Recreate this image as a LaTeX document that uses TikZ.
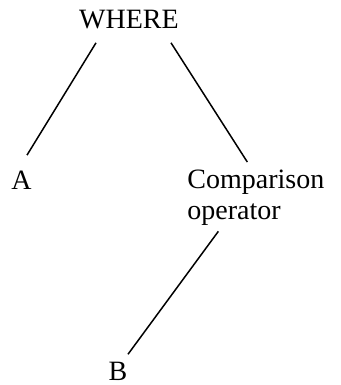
\documentclass[tikz,border=0pt]{standalone}
\usepackage{fontspec}
\setmainfont{Liberation Serif}
\usetikzlibrary{positioning}

\begin{document}
\begin{tikzpicture}[x=0.5pt,y=0.5pt,font=\fontsize{14}{15.5}\selectfont,
  word/.style={inner sep=0pt,anchor=base},
  branch/.style={line width=0.75pt}]
\useasboundingbox (0,0) rectangle (341,385);
\node[word] (where) at (129,356) {WHERE};
\node[word] (a) at (21.5,195) {A};
% base of a two-line node sits on its last line
\node[word,anchor=base west,align=left] (cmp) at (187,165) {Comparison\\operator};
\node[word] (b) at (118,4) {B};
% tree branches, kept clear of the words
\draw[branch] ([xshift=-16.5pt,yshift=-6.5pt]where.south) -- ([xshift=2.75pt,yshift=8pt]a.north);
\draw[branch] ([xshift=21pt,yshift=-6.5pt]where.south) -- ([xshift=-4.25pt,yshift=4pt]cmp.north);
\draw[branch] ([xshift=-18.75pt,yshift=-2.5pt]cmp.south) -- ([xshift=5pt,yshift=4pt]b.north);
\end{tikzpicture}
\end{document}
